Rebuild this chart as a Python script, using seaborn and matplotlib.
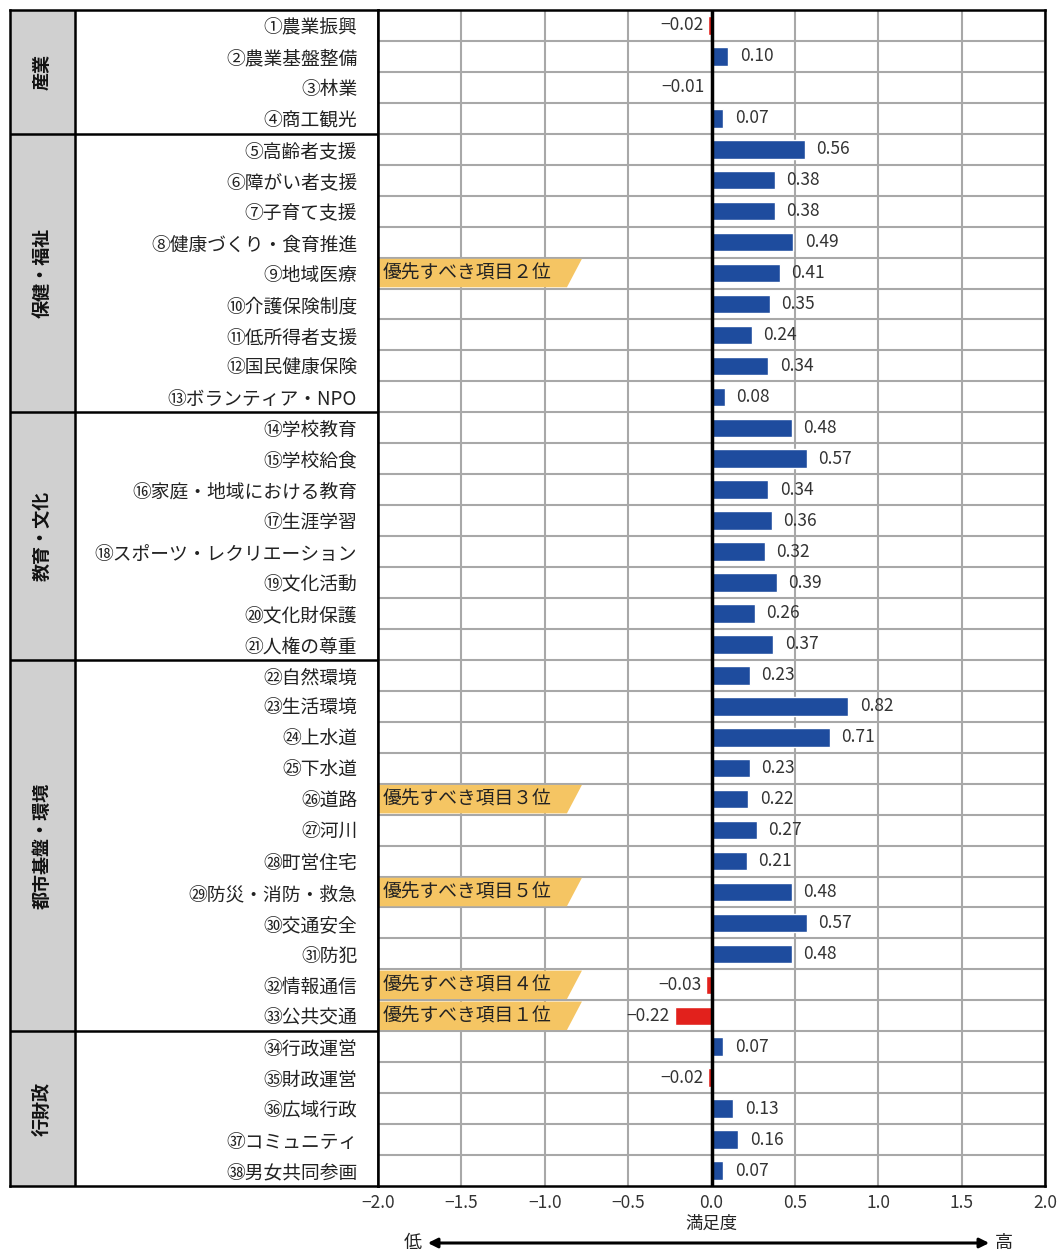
import numpy as np
import pandas as pd
import matplotlib.pyplot as plt
import seaborn as sns
from matplotlib.patches import Polygon, Rectangle, FancyArrowPatch

# data
labels = ["①農業振興", "②農業基盤整備", "③林業", "④商工観光",
          "⑤高齢者支援", "⑥障がい者支援", "⑦子育て支援", "⑧健康づくり・食育推進",
          "⑨地域医療", "⑩介護保険制度", "⑪低所得者支援", "⑫国民健康保険",
          "⑬ボランティア・NPO",
          "⑭学校教育", "⑮学校給食", "⑯家庭・地域における教育", "⑰生涯学習",
          "⑱スポーツ・レクリエーション", "⑲文化活動", "⑳文化財保護", "㉑人権の尊重",
          "㉒自然環境", "㉓生活環境", "㉔上水道", "㉕下水道", "㉖道路", "㉗河川",
          "㉘町営住宅", "㉙防災・消防・救急", "㉚交通安全", "㉛防犯", "㉜情報通信",
          "㉝公共交通",
          "㉞行政運営", "㉟財政運営", "㊱広域行政", "㊲コミュニティ", "㊳男女共同参画"]
values = [-0.02, 0.10, -0.01, 0.07,
          0.56, 0.38, 0.38, 0.49, 0.41, 0.35, 0.24, 0.34, 0.08,
          0.48, 0.57, 0.34, 0.36, 0.32, 0.39, 0.26, 0.37,
          0.23, 0.82, 0.71, 0.23, 0.22, 0.27, 0.21, 0.48, 0.57, 0.48, -0.03, -0.22,
          0.07, -0.02, 0.13, 0.16, 0.07]
groups = ["産業", "保健・福祉", "教育・文化", "都市基盤・環境", "行財政"]
group_sizes = [4, 9, 8, 12, 5]
priority_items = [9, 26, 29, 32, 33]
priority_ranks = ["２", "３", "５", "４", "１"]
x_ticks = [-2.0, -1.5, -1.0, -0.5, 0.0, 0.5, 1.0, 1.5, 2.0]

sns.set_style("white")
plt.rcParams["font.family"] = ["Noto Sans CJK JP", "DejaVu Sans"]

df = pd.DataFrame({"item": labels, "value": values})
df["sign"] = np.where(df["value"] < 0, "neg", "pos")
n = len(df)

W, H = 1061, 1252
fig = plt.figure(figsize=(W / 100, H / 100), dpi=100)
bottom = 1 - 1186 / H
height = (1186 - 10) / H

# left table (group column + item label column)
ax_t = fig.add_axes([10 / W, bottom, (378 - 10) / W, height])
ax_t.set_xlim(0, 1)
ax_t.set_ylim(n - 0.5, -0.5)
ax_t.set_xticks([])
ax_t.set_yticks([])
gx = (75 - 10) / (378 - 10)
ax_t.add_patch(Rectangle((0, -0.5), gx, n, facecolor="#D0D0D0", edgecolor="none"))
ax_t.axvline(gx, color="black", lw=1.8)
start = 0
for g, size in zip(groups, group_sizes):
    mid = start + size / 2 - 0.5
    ax_t.text(gx / 2, mid, g, rotation=90, ha="center", va="center", fontsize=13,
              color="#111111", fontweight="bold")
    if start > 0:
        ax_t.axhline(start - 0.5, color="black", lw=1.8)
    start += size
for s in ax_t.spines.values():
    s.set_color("black")
    s.set_linewidth(1.8)

# main bar chart
ax = fig.add_axes([378 / W, bottom, (1045 - 378) / W, height])
sns.barplot(data=df, x="value", y="item", hue="sign",
            palette={"pos": "#1E4C9E", "neg": "#E2211C"}, saturation=1,
            dodge=False, width=0.6, orient="h", legend=False, ax=ax, zorder=3)
ax.set_xlim(-2, 2)
ax.set_ylim(n - 0.5, -0.5)
ax.set_xticks(x_ticks)
ax.set_xticklabels([f"{t:.1f}".replace("-", "−") for t in x_ticks], fontsize=12.5, color="#333333")
ax.tick_params(axis="y", length=0, pad=15, labelsize=13.5, labelcolor="#222222")
ax.tick_params(axis="x", length=0, pad=6)
ax.set_ylabel("")
ax.set_xlabel("満足度", fontsize=12.5, color="#222222", labelpad=2)

for t in x_ticks:
    ax.axvline(t, color="#A8A8A8", lw=1.5, zorder=0)
for k in range(n - 1):
    ax.axhline(k + 0.5, color="#A8A8A8", lw=1.5, zorder=0)
ax.axvline(0, color="black", lw=2.5, zorder=4)
for s in ax.spines.values():
    s.set_color("black")
    s.set_linewidth(1.8)

# value labels
for i, v in enumerate(values):
    txt = f"{v:.2f}".replace("-", "−")
    if v < 0:
        ax.text(v - 0.03, i, txt, ha="right", va="center", fontsize=12.5, color="#333333", zorder=5)
    else:
        ax.text(v + 0.07, i, txt, ha="left", va="center", fontsize=12.5, color="#333333", zorder=5)

# priority tags
for item, rank in zip(priority_items, priority_ranks):
    y = item - 1
    poly = Polygon([(-2.0, y - 0.46), (-0.777, y - 0.46), (-0.867, y + 0.46), (-2.0, y + 0.46)],
                   closed=True, facecolor="#F5C563", edgecolor="none", zorder=2)
    ax.add_patch(poly)
    ax.text(-1.975, y, f"優先すべき項目{rank}位", ha="left", va="center", fontsize=13.5,
            color="#222222", zorder=5)

# low/high arrow under the axis
ya = 1 - 1243 / H
fig.patches.append(FancyArrowPatch(
    (425 / W, ya), (992 / W, ya), transform=fig.transFigure, figure=fig,
    arrowstyle="<|-|>", mutation_scale=14, color="black", lw=2.2))
fig.text(413 / W, ya, "低", ha="center", va="center", fontsize=13, color="#222222")
fig.text(1004 / W, ya, "高", ha="center", va="center", fontsize=13, color="#222222")

fig.savefig("out.png", dpi=100)
